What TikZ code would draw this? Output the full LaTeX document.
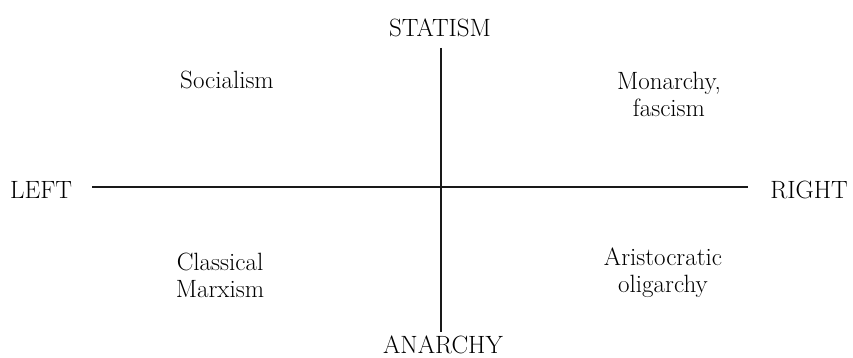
\documentclass[tikz,border=0pt]{standalone}
\begin{document}
\begin{tikzpicture}[x=1pt,y=-1pt,
  lbl/.style={inner sep=0pt,anchor=base,font=\fontsize{25}{26}\selectfont,text=black},
  quad/.style={inner sep=0pt,align=center,font=\fontsize{25}{27}\selectfont,text=black},
  axis/.style={line width=1.4pt,black!90}]
\useasboundingbox (0,0) rectangle (853,358);
\node[lbl] (statism) at (440,37) {STATISM};
\node[lbl] (anarchy) at (443,353) {ANARCHY};
\node[lbl,anchor=base west] (left) at (10,198) {LEFT};
\node[lbl,anchor=base east] (right) at (848,198) {RIGHT};
\coordinate (hl) at (92,187);
\coordinate (hr) at (748,187);
\coordinate (vt) at (441,48);
\coordinate (vb) at (441,332);
\draw[axis] (hl) -- (hr);
\draw[axis] (vt) -- (vb);
\node[quad] (soc) at (227,80) {Socialism};
\node[quad] (mon) at (669,94) {Monarchy,\\fascism};
\node[quad] (cm) at (220,275) {Classical\\Marxism};
\node[quad] (ao) at (663,273) {Aristocratic\\oligarchy};
\end{tikzpicture}
\end{document}
